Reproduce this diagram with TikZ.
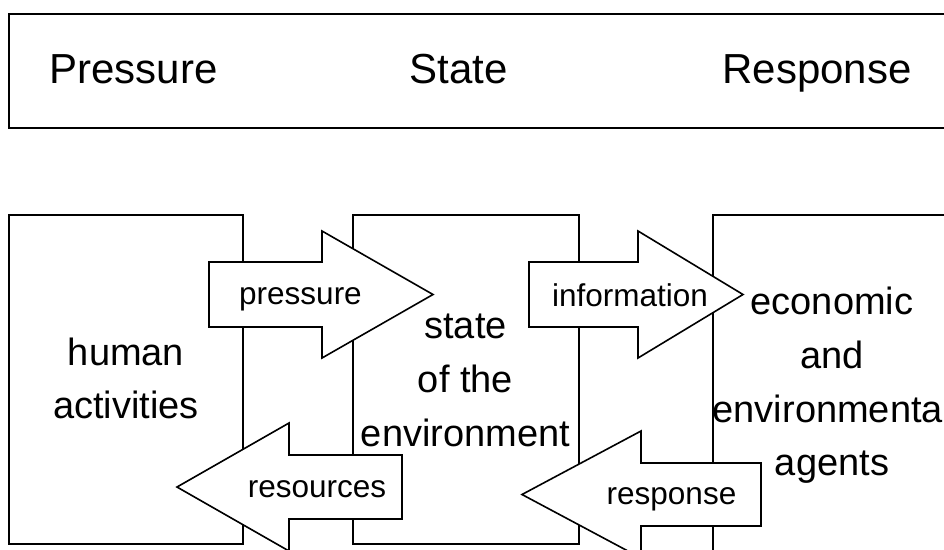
\documentclass[tikz,border=0pt]{standalone}
\usepackage{fontspec}
\setmainfont{Liberation Sans}
\usepackage{tikz}

\begin{document}
\begin{tikzpicture}[x=1pt, y=-1pt, line width=1.6pt,
	box/.style={draw, rectangle, inner sep=0pt, outer sep=0pt},
	blockarrow/.style={draw, fill=white, line join=miter},
	boxtext/.style={align=center, font=\fontsize{38}{53.7}\selectfont, inner sep=0pt},
	headtext/.style={anchor=base, font=\fontsize{42}{50}\selectfont, inner sep=0pt},
	arrowtext/.style={anchor=base, font=\fontsize{31.5}{38}\selectfont, inner sep=0pt}]
	\useasboundingbox (0,0) rectangle (944,549);
	\clip (0,0) rectangle (944,549);
	% header
	\node [box, minimum width=950pt, minimum height=114pt] (header) at (484,71) {};
	\node [headtext] (pressurehead) at (133.5,83) {Pressure};
	\node [headtext] (statehead) at (458.5,83) {State};
	\node [headtext] (responsehead) at (817,83) {Response};
	% boxes
	\node [box, minimum width=234pt, minimum height=329pt] (activities) at (126,379.5) {};
	\node [box, minimum width=226pt, minimum height=329pt] (environment) at (466,379.5) {};
	\node [box, minimum width=238pt, minimum height=337pt] (agents) at (832,383.5) {};
	\node [boxtext] (activitiestext) at (126,378.5) {human\\activities};
	\node [boxtext] (environmenttext) at (465.5,380.5) {state\\of the\\environment};
	\node [boxtext] (agentstext) at (832,385.5) {economic\\and\\environmental\\agents};
	% arrows
	\draw [blockarrow] (209,262) -- (322,262) -- (322,231) -- (433,294.5) -- (322,358) -- (322,327) -- (209,327) -- cycle;
	\node [arrowtext] (pressurelabel) at (300.5,304) {pressure};
	\draw [blockarrow] (402,455) -- (289,455) -- (289,423) -- (177,487) -- (289,551) -- (289,519) -- (402,519) -- cycle;
	\node [arrowtext] (resourceslabel) at (317,497) {resources};
	\draw [blockarrow] (529,262) -- (638,262) -- (638,231) -- (743,294.5) -- (638,358) -- (638,327) -- (529,327) -- cycle;
	\node [arrowtext] (informationlabel) at (630,306) {information};
	\draw [blockarrow] (761,463) -- (641,463) -- (641,431) -- (522,494.5) -- (641,558) -- (641,526) -- (761,526) -- cycle;
	\node [arrowtext] (responselabel) at (671.5,504) {response};
\end{tikzpicture}
\end{document}
